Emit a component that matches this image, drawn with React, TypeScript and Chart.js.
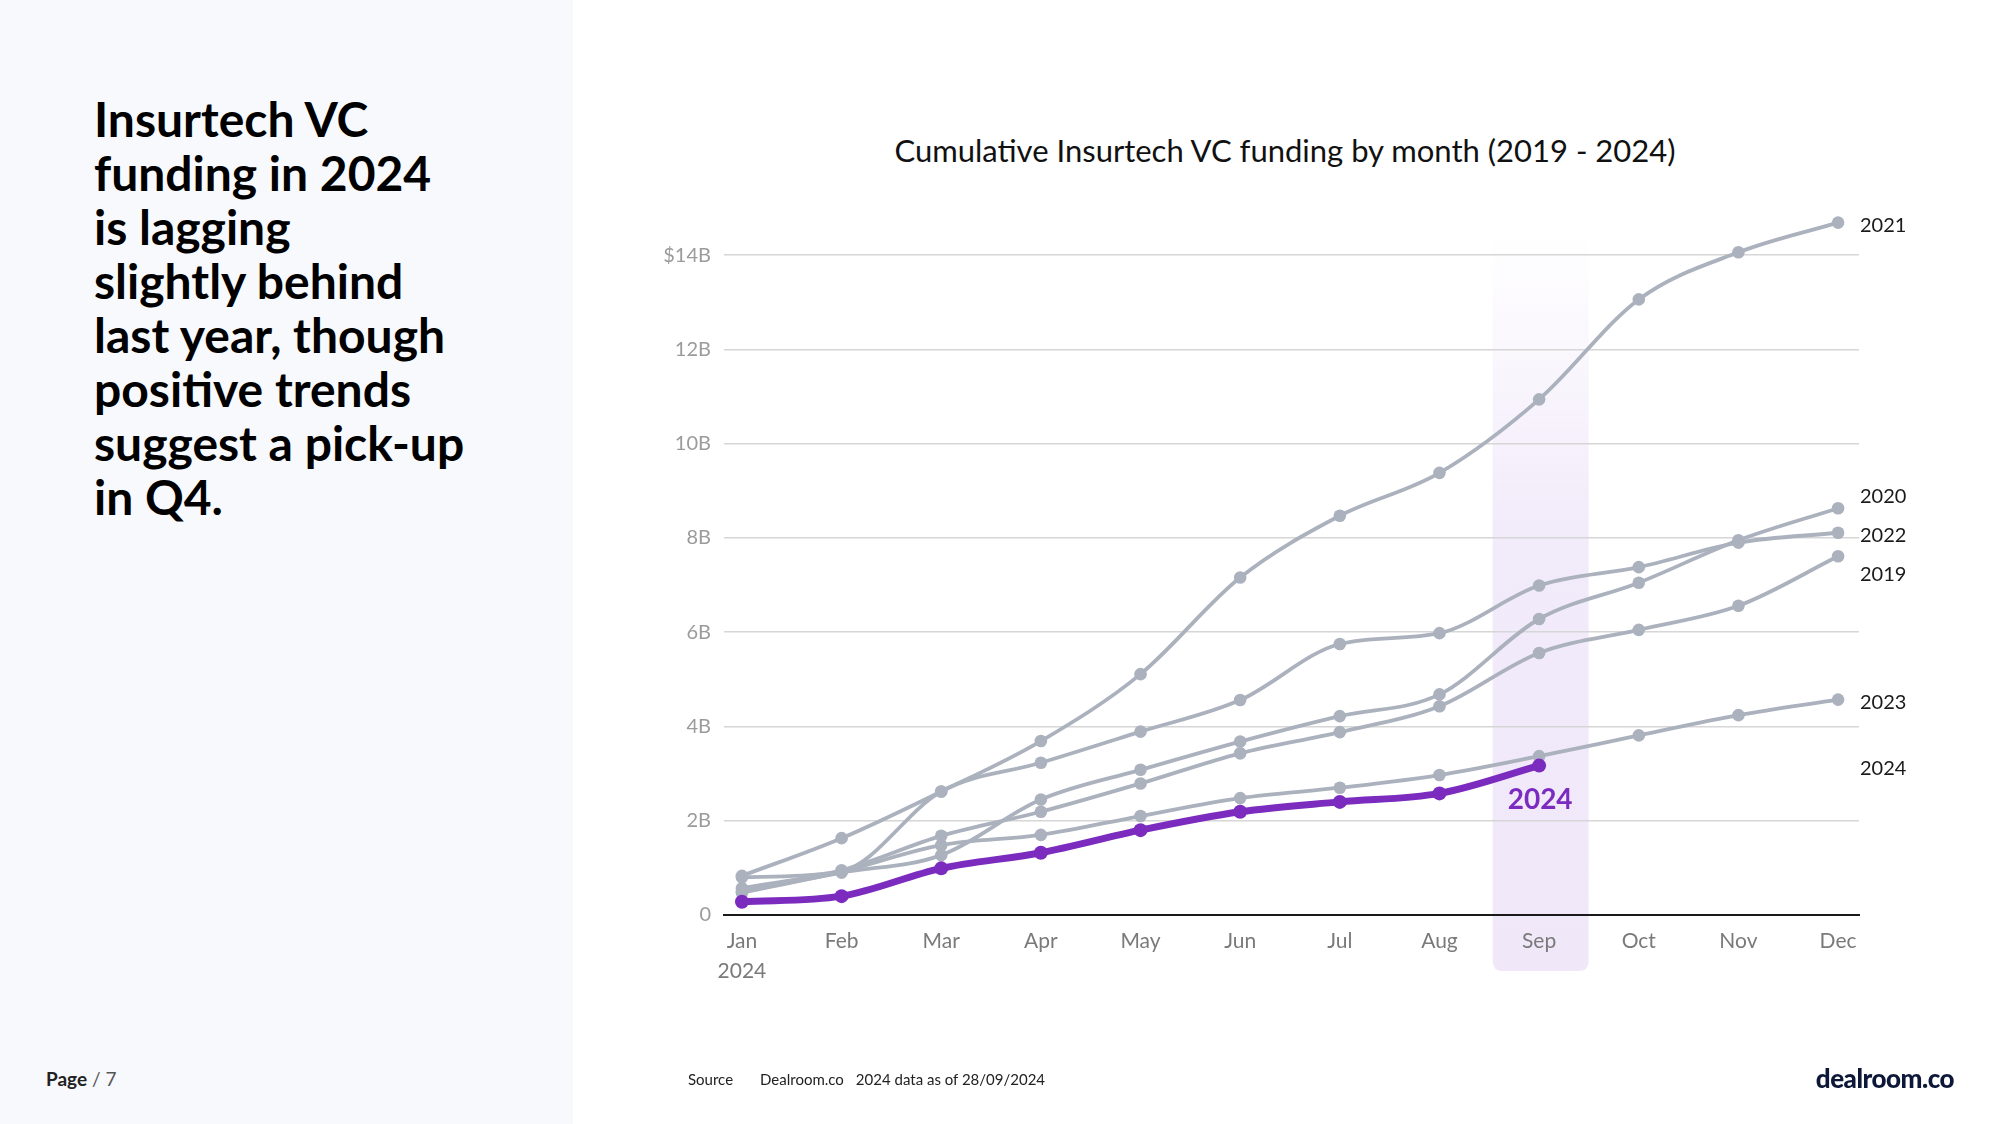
import React, { useEffect, useRef } from 'react';
import { Chart, registerables } from 'chart.js';

Chart.register(...registerables);

// ---------- data ----------
const months = ['Jan', 'Feb', 'Mar', 'Apr', 'May', 'Jun', 'Jul', 'Aug', 'Sep', 'Oct', 'Nov', 'Dec'];
const firstMonthSubLabel = '2024';
const yTickValues = [0, 2, 4, 6, 8, 10, 12, 14];
const yTickLabels = ['0', '2B', '4B', '6B', '8B', '10B', '12B', '$14B'];

const years = ['2019', '2020', '2021', '2022', '2023', '2024'];
const values2019 = [0.57, 0.95, 1.68, 2.19, 2.79, 3.43, 3.88, 4.43, 5.56, 6.05, 6.56, 7.61];
const values2020 = [0.5, 0.9, 1.27, 2.45, 3.08, 3.68, 4.22, 4.68, 6.28, 7.05, 7.95, 8.63];
const values2021 = [0.83, 1.63, 2.62, 3.69, 5.11, 7.16, 8.47, 9.38, 10.94, 13.06, 14.06, 14.69];
const values2022 = [0.8, 0.93, 2.62, 3.23, 3.89, 4.56, 5.75, 5.98, 6.99, 7.38, 7.9, 8.11];
const values2023 = [0.47, 0.92, 1.48, 1.7, 2.1, 2.48, 2.7, 2.97, 3.37, 3.81, 4.24, 4.57];
const values2024 = [0.28, 0.4, 0.99, 1.32, 1.8, 2.19, 2.4, 2.58, 3.17];
const seriesValues = [values2019, values2020, values2021, values2022, values2023, values2024];

const highlightYear = '2024';
const highlightMonth = 'Sep';

const headline = [
  'Insurtech VC',
  'funding in 2024',
  'is lagging',
  'slightly behind',
  'last year, though',
  'positive trends',
  'suggest a pick-up',
  'in Q4.',
];
const chartTitle = 'Cumulative Insurtech VC funding by month (2019 - 2024)';

// ---------- styles ----------
const GRAY = '#abb2be';
const PURPLE = '#7b2cbf';
const FONT = 'Lato, "Noto Sans", sans-serif';

const bandPlugin = {
  id: 'sepBand',
  beforeDraw(chart: any) {
    const { ctx, scales } = chart;
    const xs = scales.x;
    const ys = scales.y;
    const idx = months.indexOf(highlightMonth);
    const cx = xs.getPixelForValue(idx) + 1.5;
    const half = 48;
    const top = ys.getPixelForValue(14.5);
    const bottom = ys.bottom + 56;
    const r = 10;
    const g = ctx.createLinearGradient(0, top, 0, bottom);
    g.addColorStop(0, 'rgba(242,235,250,0)');
    g.addColorStop(0.4, 'rgba(242,235,250,1)');
    g.addColorStop(1, 'rgba(240,232,249,1)');
    ctx.save();
    ctx.fillStyle = g;
    ctx.beginPath();
    ctx.moveTo(cx - half, top);
    ctx.lineTo(cx + half, top);
    ctx.lineTo(cx + half, bottom - r);
    ctx.quadraticCurveTo(cx + half, bottom, cx + half - r, bottom);
    ctx.lineTo(cx - half + r, bottom);
    ctx.quadraticCurveTo(cx - half, bottom, cx - half, bottom - r);
    ctx.closePath();
    ctx.fill();
    ctx.restore();
  },
};

const endLabelPlugin = {
  id: 'endLabels',
  afterDatasetsDraw(chart: any) {
    const { ctx, chartArea, scales } = chart;
    const items = years.map((y, i) => {
      const vals = seriesValues[i];
      return { label: y, y: scales.y.getPixelForValue(vals[vals.length - 1]) + 3 };
    });
    items.sort((a, b) => a.y - b.y);
    const gap = 39;
    for (let iter = 0; iter < 200; iter++) {
      for (let i = 0; i < items.length - 1; i++) {
        const d = items[i + 1].y - items[i].y;
        if (d < gap) {
          const o = (gap - d) / 2;
          items[i].y -= o;
          items[i + 1].y += o;
        }
      }
    }
    ctx.save();
    ctx.font = `20px ${FONT}`;
    ctx.fillStyle = '#1a1a1a';
    ctx.textAlign = 'left';
    ctx.textBaseline = 'middle';
    items.forEach((it) => ctx.fillText(it.label, chartArea.right + 1, it.y));

    // bold in-chart label for the highlighted year
    const hi = years.indexOf(highlightYear);
    const vals = seriesValues[hi];
    const last = vals.length - 1;
    const px = scales.x.getPixelForValue(last);
    const py = scales.y.getPixelForValue(vals[last]);
    ctx.font = `bold 28px ${FONT}`;
    ctx.fillStyle = PURPLE;
    ctx.textAlign = 'center';
    ctx.fillText(highlightYear, px + 1, py + 34);
    ctx.restore();
  },
};

function ChartCanvas() {
  const ref = useRef<HTMLCanvasElement | null>(null);
  useEffect(() => {
    let chart: any = null;
    let cancelled = false;
    const build = () => {
      if (cancelled || !ref.current) return;
      const datasets = years.map((y, i) => {
        const isHi = y === highlightYear;
        const color = isHi ? PURPLE : GRAY;
        return {
          label: y,
          data: seriesValues[i].map((v, j) => ({ x: j, y: v })),
          borderColor: color,
          backgroundColor: color,
          pointBackgroundColor: color,
          pointBorderWidth: 0,
          pointRadius: isHi ? 7 : 6.3,
          borderWidth: isHi ? 7 : 3.8,
          cubicInterpolationMode: 'monotone',
          fill: false,
          order: isHi ? 0 : 1,
        };
      });
      chart = new Chart(ref.current, {
        type: 'line',
        data: { datasets } as any,
        options: {
          responsive: false,
          maintainAspectRatio: false,
          animation: false,
          layout: { padding: { left: 0, right: 140, top: 150, bottom: 0 } },
          plugins: {
            legend: { display: false },
            tooltip: { enabled: false },
            title: { display: false },
          },
          scales: {
            x: {
              type: 'linear',
              min: -0.18,
              max: 11.21,
              afterBuildTicks: (s: any) => {
                s.ticks = months.map((_, i) => ({ value: i }));
              },
              afterFit: (s: any) => {
                s.height = 209;
              },
              ticks: {
                autoSkip: false,
                maxRotation: 0,
                padding: 12,
                color: '#7a7a7a',
                font: { family: FONT, size: 21, lineHeight: 1.4 },
                callback: (v: any) => {
                  const i = Math.round(Number(v));
                  return i === 0 ? [months[0], firstMonthSubLabel] : months[i];
                },
              },
              grid: { display: false, drawTicks: false },
              border: { display: true, color: '#1a1a1a', width: 2 },
            },
            y: {
              min: 0,
              max: 16.23,
              afterBuildTicks: (s: any) => {
                s.ticks = yTickValues.map((v) => ({ value: v }));
              },
              afterFit: (s: any) => {
                s.width = 151;
              },
              ticks: {
                padding: 13,
                color: '#9b9b9b',
                font: { family: FONT, size: 20 },
                callback: (v: any) => {
                  const i = yTickValues.indexOf(Number(v));
                  return i >= 0 ? yTickLabels[i] : '';
                },
              },
              grid: {
                color: (c: any) => (c.tick && c.tick.value === 0 ? 'rgba(0,0,0,0)' : '#d6d6d6'),
                lineWidth: 1.6,
                drawTicks: false,
              },
              border: { display: false },
            },
          },
        } as any,
        plugins: [bandPlugin, endLabelPlugin],
      });
    };
    const fontsReady = (document as any).fonts
      ? Promise.all([
          (document as any).fonts.load(`20px Lato`),
          (document as any).fonts.load(`bold 28px Lato`),
        ]).catch(() => null)
      : Promise.resolve(null);
    fontsReady.then(build);
    return () => {
      cancelled = true;
      if (chart) chart.destroy();
    };
  }, []);
  return (
    <canvas
      ref={ref}
      width={1426}
      height={1124}
      style={{ position: 'absolute', left: 573, top: 0, width: 1426, height: 1124 }}
    />
  );
}

export default function App() {
  useEffect(() => {
    document.body.style.margin = '0';
    document.body.style.background = '#ffffff';
  }, []);
  return (
    <div
      style={{
        position: 'relative',
        width: 1999,
        height: 1124,
        overflow: 'hidden',
        background: '#ffffff',
        fontFamily: FONT,
      }}
    >
      <div style={{ position: 'absolute', left: 0, top: 0, width: 573, height: 1124, background: '#f7f9fd' }} />
      <div
        style={{
          position: 'absolute',
          left: 94,
          top: 92,
          fontSize: 48,
          lineHeight: '54px',
          fontWeight: 700,
          color: '#000',
          whiteSpace: 'nowrap',
        }}
      >
        {headline.map((l, i) => (
          <div key={i}>{l}</div>
        ))}
      </div>
      <div
        style={{
          position: 'absolute',
          left: 1285,
          top: 150,
          transform: 'translate(-50%, -50%)',
          fontSize: 31,
          lineHeight: '36px',
          color: '#111',
          whiteSpace: 'nowrap',
        }}
      >
        {chartTitle}
      </div>
      <ChartCanvas />
      <div style={{ position: 'absolute', left: 46, top: 1068, fontSize: 19, lineHeight: '22px', whiteSpace: 'nowrap' }}>
        <span style={{ fontWeight: 700, color: '#222' }}>Page</span>
        <span style={{ color: '#555' }}> / 7</span>
      </div>
      <div
        style={{
          position: 'absolute',
          left: 688,
          top: 1069,
          fontSize: 15,
          lineHeight: '20px',
          color: '#222',
          whiteSpace: 'nowrap',
        }}
      >
        <span>Source</span>
        <span style={{ marginLeft: 27 }}>Dealroom.co</span>
        <span style={{ marginLeft: 12 }}>2024 data as of 28/09/2024</span>
      </div>
      <div
        style={{
          position: 'absolute',
          right: 45,
          top: 1063,
          fontSize: 26,
          lineHeight: '30px',
          fontWeight: 900,
          color: '#0d1838',
          whiteSpace: 'nowrap',
          letterSpacing: -0.5,
        }}
      >
        dealroom.co
      </div>
    </div>
  );
}
